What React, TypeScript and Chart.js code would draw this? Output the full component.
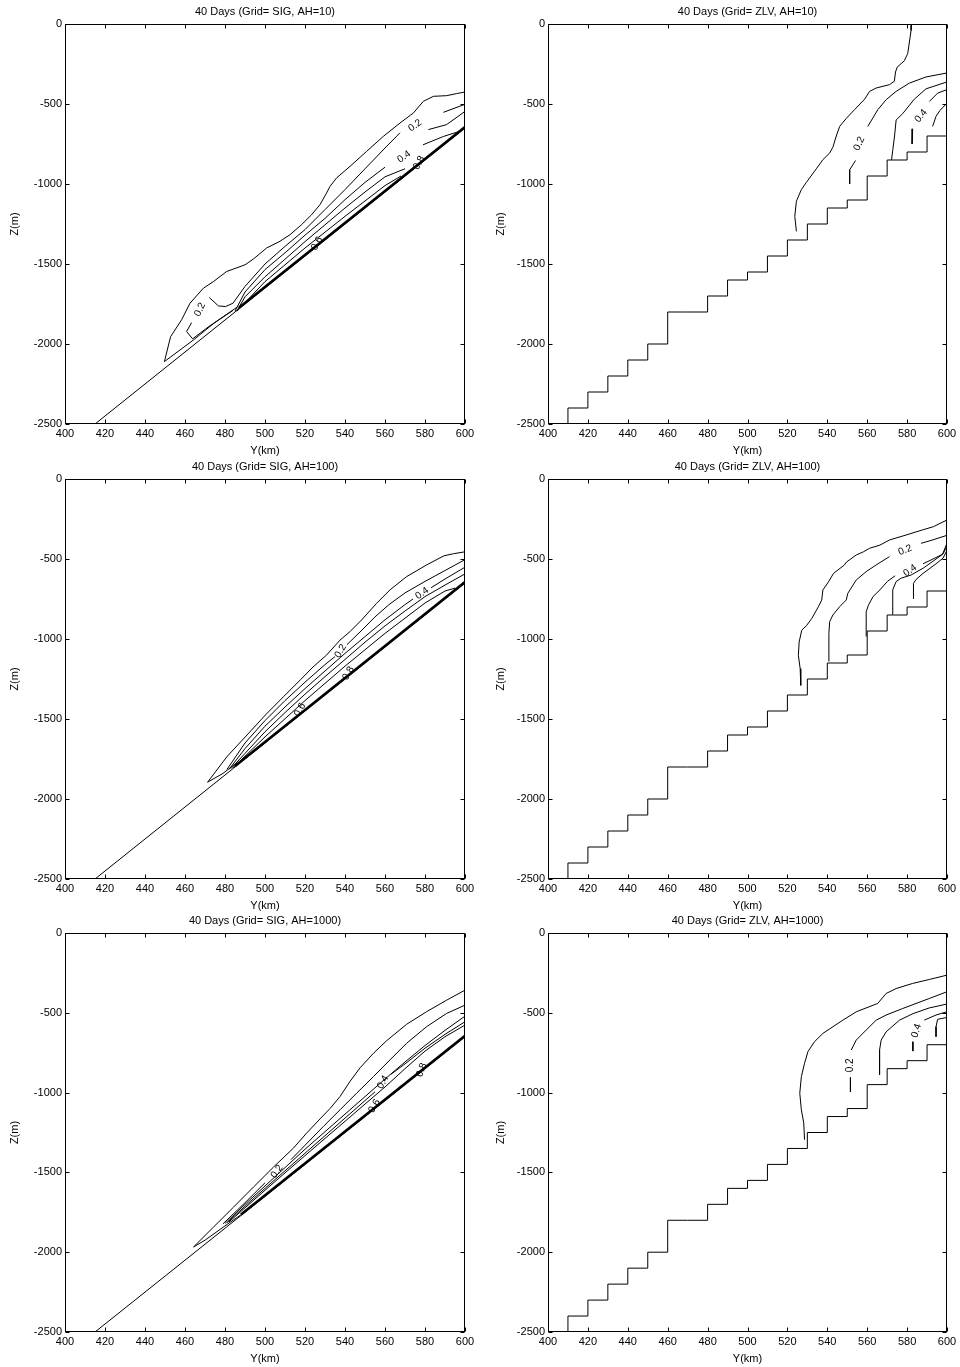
import React, { useEffect, useRef } from "react";
import { Chart, registerables } from "chart.js";

Chart.register(...registerables);

type Pt = [number, number];
type Lbl = { x: number; z: number; text: string; rot: number };

const FONT = '"Liberation Sans", Arial, Helvetica, sans-serif';

// ---------- axes ----------
const X_TICKS = [400, 420, 440, 460, 480, 500, 520, 540, 560, 580, 600];
const Z_TICKS = [-2500, -2000, -1500, -1000, -500, 0];
const X_RANGE: Pt = [400, 600];
const Z_RANGE: Pt = [-2500, 0];

// ---------- topography ----------
const SIG_BOTTOM: Pt[] = [[415, -2500], [600, -650]];
const STAIR_X = [400, 410, 420, 430, 440, 450, 460, 470, 480, 490, 500, 510, 520, 530, 540, 550, 560, 570, 580, 590, 600];
const STAIR_Z = [-2500, -2400, -2300, -2200, -2100, -2000, -1800, -1800, -1700, -1600, -1550, -1450, -1350, -1250, -1150, -1100, -950, -850, -800, -700, -700];

// ---------- SIG, AH=10 ----------
const S10_THICK: Pt[] = [[487, -1774], [600, -644]];
const S10_C1: Pt[] = [[486, -1770], [475, -1865], [464.2, -1975], [449.7, -2110], [452.8, -1954], [458.3, -1849], [462.5, -1745], [469.2, -1651], [474.2, -1610], [480.8, -1547], [490, -1505], [494.2, -1469], [500.8, -1400], [507.5, -1358], [512.5, -1317], [518.3, -1254], [523.3, -1192], [527.5, -1129], [530.8, -1056], [532.5, -1015], [535.8, -962], [542.5, -890], [550.8, -796], [559.2, -702], [567.5, -619], [574.2, -556], [579.2, -483], [584.2, -452], [590.8, -448], [595.8, -435], [600, -425]];
const S10_C2A: Pt[] = [[463.3, -1866], [460.8, -1922], [463.8, -1968], [472, -1890], [484, -1790]];
const S10_C2B: Pt[] = [[472.2, -1710], [476.7, -1762], [480.3, -1766], [484, -1745], [490, -1640], [500, -1500], [510, -1390], [520, -1285], [530, -1160], [540, -1035], [550, -905], [560, -775], [567.5, -680]];
const S10_C2C: Pt[] = [[581.7, -660], [590.8, -629], [600, -546]];
const S10_C2D: Pt[] = [[589.2, -552], [600, -502]];
const S10_C3A: Pt[] = [[485, -1795], [490, -1675], [500, -1535], [510, -1430], [520, -1320], [530, -1215], [540, -1098], [550, -990], [560, -895]];
const S10_C3B: Pt[] = [[579, -755], [589.2, -703], [598, -668]];
const S10_C4: Pt[] = [[486, -1792], [490, -1705], [500, -1580], [510, -1470], [520, -1360], [530, -1255], [540, -1150], [550, -1050], [560, -955], [570, -905]];
const S10_C5: Pt[] = [[486, -1795], [500, -1610], [520, -1400], [540, -1202], [560, -1010], [568, -950]];
const S10_LABELS: Lbl[] = [
  { x: 467.5, z: -1785, text: "0.2", rot: 65 },
  { x: 575, z: -635, text: "0.2", rot: 35 },
  { x: 569.5, z: -830, text: "0.4", rot: 35 },
  { x: 577, z: -868, text: "0.8", rot: 60 },
  { x: 526, z: -1372, text: "0.6", rot: 60 },
];

// ---------- SIG, AH=100 ----------
const S100_THICK: Pt[] = [[485, -1794], [600, -644]];
const S100_C1: Pt[] = [[486, -1772], [479, -1840], [471.3, -1895], [481, -1735], [491, -1600], [500.2, -1475], [509.3, -1360], [517.7, -1255], [524, -1175], [530.8, -1100], [537.5, -1007], [542.5, -954], [548.3, -881], [555.8, -777], [562.5, -693], [570.8, -610], [580.8, -537], [589.5, -480], [594.2, -467], [600, -455]];
const S100_C2A: Pt[] = [[481, -1815], [490, -1650], [500, -1510], [510, -1385], [520, -1270], [530, -1160], [535, -1110]];
const S100_C2B: Pt[] = [[541, -1035], [548, -950], [555, -862], [562, -785], [570, -712], [580, -640], [590, -572], [600, -504]];
const S100_C3A: Pt[] = [[482, -1815], [490, -1685], [500, -1545], [510, -1425], [520, -1310], [530, -1200], [540, -1090], [550, -985], [560, -880], [570, -785], [574, -750]];
const S100_C3B: Pt[] = [[583, -680], [590, -625], [600, -551]];
const S100_C4: Pt[] = [[483, -1810], [490, -1715], [500, -1580], [510, -1460], [520, -1345], [530, -1235], [540, -1128], [550, -1020], [560, -918], [570, -825], [580, -735], [590, -663], [600, -593]];
const S100_C5: Pt[] = [[484, -1805], [500, -1612], [520, -1385], [540, -1170], [560, -965], [580, -775], [590, -700], [595, -682]];
const S100_LABELS: Lbl[] = [
  { x: 537.8, z: -1075, text: "0.2", rot: 60 },
  { x: 578.5, z: -714, text: "0.4", rot: 35 },
  { x: 541.7, z: -1214, text: "0.8", rot: 60 },
  { x: 517.5, z: -1443, text: "0.6", rot: 60 },
];

// ---------- SIG, AH=1000 ----------
const S1000_THICK: Pt[] = [[488, -1764], [600, -644]];
const S1000_C1: Pt[] = [[488, -1765], [480, -1835], [470, -1925], [464.3, -1967], [474.3, -1842], [484.3, -1717], [494.3, -1591], [504.3, -1466], [514.2, -1348], [520.8, -1254], [527.5, -1165], [532.5, -1100], [537.5, -1025], [542.5, -930], [547.5, -845], [554.2, -754], [560.8, -675], [570.8, -572], [580.8, -493], [590.8, -421], [600, -358]];
const S1000_C2A: Pt[] = [[479, -1822], [490, -1690], [500, -1565]];
const S1000_C2B: Pt[] = [[513, -1420], [520, -1330], [529.2, -1212], [537.5, -1108], [545.8, -1004], [554.2, -900], [562.5, -795], [570.8, -691], [580.8, -587], [590.8, -504], [600, -452]];
const S1000_C3: Pt[] = [[480, -1820], [490, -1700], [500, -1585], [510, -1470], [520, -1355], [530, -1245], [540, -1135], [550, -1025], [560, -915], [570, -808], [580, -705], [590, -610], [600, -521]];
const S1000_C4A: Pt[] = [[481, -1815], [490, -1712], [500, -1600], [510, -1490], [520, -1380], [530, -1270], [540, -1160], [550, -1050], [555, -995]];
const S1000_C4B: Pt[] = [[563, -885], [570, -820], [580, -722], [590, -635], [600, -556]];
const S1000_C5: Pt[] = [[482, -1810], [490, -1722], [500, -1612], [510, -1503], [520, -1395], [530, -1287], [540, -1180], [550, -1072], [560, -965], [570, -850], [580, -740], [590, -650], [600, -577]];
const S1000_LABELS: Lbl[] = [
  { x: 506, z: -1495, text: "0.2", rot: 55 },
  { x: 559, z: -935, text: "0.4", rot: 60 },
  { x: 554.7, z: -1085, text: "0.6", rot: 60 },
  { x: 578.3, z: -858, text: "0.8", rot: 70 },
];

// ---------- ZLV, AH=10 ----------
const Z10_C1: Pt[] = [[582.3, 0], [582, -40], [581.3, -100], [580.3, -185], [578.6, -230], [575, -270], [574.2, -300], [573.6, -358], [571.2, -379], [564.5, -400], [561.2, -421], [558.7, -470], [553.7, -535], [549.5, -590], [546.2, -640], [544.5, -700], [542.8, -770], [541.2, -806], [537.8, -848], [534.5, -905], [529.5, -990], [527, -1035], [524.5, -1108], [523.7, -1202], [524.5, -1296]];
const Z10_C2A: Pt[] = [[600, -306], [589.5, -331], [581.2, -369], [574.5, -421], [569.5, -473], [565.3, -536], [562.8, -588], [560.3, -640]];
const Z10_C2B: Pt[] = [[554.2, -853], [551.2, -911], [551.2, -1000]];
const Z10_C3: Pt[] = [[600, -362], [589.5, -405], [583.6, -470], [577.8, -560], [574.5, -600], [573.7, -700], [572.8, -790], [572.2, -849]];
const Z10_C4A: Pt[] = [[600, -410], [595.3, -432], [591.2, -484]];
const Z10_C4B: Pt[] = [[582.8, -655], [582.5, -750]];
const Z10_C5: Pt[] = [[600, -494], [596.5, -540], [594.5, -577], [592.8, -640]];
const Z10_LABELS: Lbl[] = [
  { x: 556, z: -748, text: "0.2", rot: 65 },
  { x: 587, z: -575, text: "0.4", rot: 50 },
];

// ---------- ZLV, AH=100 ----------
const Z100_C1: Pt[] = [[600, -256], [593.2, -298], [587.8, -318], [579.5, -350], [571.2, -381], [566.4, -413], [561.2, -433], [558.1, -455], [554.5, -475], [549.7, -518], [548.6, -537], [543.1, -590], [540.6, -643], [537.8, -693], [537.2, -757], [535.5, -799], [532.2, -872], [529.7, -914], [527.2, -945], [525.9, -1018], [525.5, -1102], [526.4, -1185], [526.7, -1290]];
const Z100_C2A: Pt[] = [[540.8, -1140], [540.8, -964], [541.2, -891], [542.8, -850], [546.2, -798], [549.5, -756], [550.3, -714], [554.5, -631], [559.5, -579], [564.5, -537], [571.2, -485]];
const Z100_C2B: Pt[] = [[587, -402], [593, -380], [600, -352]];
const Z100_C3A: Pt[] = [[559.5, -985], [559.5, -830], [560.6, -789], [562.9, -735], [566.4, -693], [570.2, -639], [574, -605]];
const Z100_C3B: Pt[] = [[588, -530], [593, -500], [597.8, -470], [600, -400]];
const Z100_C4: Pt[] = [[572.5, -845], [572.8, -693], [574.5, -641], [577, -620], [582, -600], [588, -558], [594, -505], [598, -468], [600, -420]];
const Z100_C5: Pt[] = [[583.2, -750], [583.2, -652], [584.5, -628], [588, -590], [594.5, -530], [598, -495], [600, -445]];
const Z100_LABELS: Lbl[] = [
  { x: 579, z: -445, text: "0.2", rot: 22 },
  { x: 581.5, z: -572, text: "0.4", rot: 35 },
];

// ---------- ZLV, AH=1000 ----------
const Z1000_C1: Pt[] = [[600, -264], [591.2, -291], [582.8, -316], [574.5, -348], [569.5, -379], [565.3, -441], [554.5, -494], [547.8, -546], [537.8, -629], [533.6, -681], [530.3, -743], [528.6, -816], [527, -900], [526.2, -1004], [527, -1108], [528.2, -1191], [528.6, -1295]];
const Z1000_C2A: Pt[] = [[600, -368], [591.2, -410], [577.8, -473], [569.5, -514], [564.5, -546], [559.5, -608], [554.5, -671], [552, -733]];
const Z1000_C2B: Pt[] = [[551.6, -905], [551.6, -995]];
const Z1000_C3: Pt[] = [[600, -445], [591, -470], [583, -505], [576.2, -546], [569.5, -619], [567, -671], [566.2, -733], [566.2, -889]];
const Z1000_C4A: Pt[] = [[600, -493], [594.5, -514], [588.6, -546]];
const Z1000_C4B: Pt[] = [[582.9, -681], [582.9, -740]];
const Z1000_C5: Pt[] = [[600, -529], [595.3, -541], [594.5, -587], [594.5, -650]];
const Z1000_LABELS: Lbl[] = [
  { x: 551.4, z: -829, text: "0.2", rot: 90 },
  { x: 584.7, z: -612, text: "0.4", rot: 72 },
];

// ---------- panel specs ----------
type Line = { pts: Pt[]; w?: number; stepped?: boolean };
type PanelSpec = { title: string; col: number; row: number; lines: Line[]; labels: Lbl[] };

const STAIR: Pt[] = STAIR_X.map((x, i) => [x, STAIR_Z[i]] as Pt);

const PANELS: PanelSpec[] = [
  {
    title: "40 Days (Grid= SIG, AH=10)", col: 0, row: 0, labels: S10_LABELS,
    lines: [{ pts: SIG_BOTTOM }, { pts: S10_THICK, w: 2.6 }, { pts: S10_C1 }, { pts: S10_C2A }, { pts: S10_C2B }, { pts: S10_C2C }, { pts: S10_C2D }, { pts: S10_C3A }, { pts: S10_C3B }, { pts: S10_C4 }, { pts: S10_C5 }],
  },
  {
    title: "40 Days (Grid= ZLV, AH=10)", col: 1, row: 0, labels: Z10_LABELS,
    lines: [{ pts: STAIR, stepped: true }, { pts: Z10_C1 }, { pts: Z10_C2A }, { pts: Z10_C2B }, { pts: Z10_C3 }, { pts: Z10_C4A }, { pts: Z10_C4B }, { pts: Z10_C5 }],
  },
  {
    title: "40 Days (Grid= SIG, AH=100)", col: 0, row: 1, labels: S100_LABELS,
    lines: [{ pts: SIG_BOTTOM }, { pts: S100_THICK, w: 2.6 }, { pts: S100_C1 }, { pts: S100_C2A }, { pts: S100_C2B }, { pts: S100_C3A }, { pts: S100_C3B }, { pts: S100_C4 }, { pts: S100_C5 }],
  },
  {
    title: "40 Days (Grid= ZLV, AH=100)", col: 1, row: 1, labels: Z100_LABELS,
    lines: [{ pts: STAIR, stepped: true }, { pts: Z100_C1 }, { pts: Z100_C2A }, { pts: Z100_C2B }, { pts: Z100_C3A }, { pts: Z100_C3B }, { pts: Z100_C4 }, { pts: Z100_C5 }],
  },
  {
    title: "40 Days (Grid= SIG, AH=1000)", col: 0, row: 2, labels: S1000_LABELS,
    lines: [{ pts: SIG_BOTTOM }, { pts: S1000_THICK, w: 2.6 }, { pts: S1000_C1 }, { pts: S1000_C2A }, { pts: S1000_C2B }, { pts: S1000_C3 }, { pts: S1000_C4A }, { pts: S1000_C4B }, { pts: S1000_C5 }],
  },
  {
    title: "40 Days (Grid= ZLV, AH=1000)", col: 1, row: 2, labels: Z1000_LABELS,
    lines: [{ pts: STAIR, stepped: true }, { pts: Z1000_C1 }, { pts: Z1000_C2A }, { pts: Z1000_C2B }, { pts: Z1000_C3 }, { pts: Z1000_C4A }, { pts: Z1000_C4B }, { pts: Z1000_C5 }],
  },
];

// layout (pixels)
const ROW_TOP = [0, 455, 909];
const ROW_H = [459, 459, 458];
const COL_LEFT = [0, 480];
const COL_W = 480;
const Y_AXIS_W = [65, 68];
const PAD_RIGHT = [15, 13];
const YTITLE_PAD = [8.4, 14.1];

function Panel({ spec }: { spec: PanelSpec }) {
  const ref = useRef<HTMLCanvasElement>(null);
  useEffect(() => {
    const canvas = ref.current;
    if (!canvas) return;
    const datasets = spec.lines.map((l) => ({
      data: l.pts.map(([x, y]) => ({ x, y })),
      showLine: true,
      pointRadius: 0,
      pointHoverRadius: 0,
      borderColor: "#000",
      borderWidth: l.w ?? 1,
      fill: false,
      tension: 0,
      stepped: l.stepped ? ("before" as const) : false,
    }));
    const decor = {
      id: "decor",
      afterDraw(chart: any) {
        const { ctx, chartArea: a, scales } = chart;
        const sx = scales.x;
        const sy = scales.y;
        ctx.save();
        ctx.strokeStyle = "#000";
        ctx.lineWidth = 1;
        const L = Math.round(a.left) + 0.5;
        const R = Math.round(a.right) - 0.5;
        const T = Math.round(a.top) + 0.5;
        const B = Math.round(a.bottom) - 0.5;
        ctx.strokeRect(L, T, R - L, B - T);
        ctx.beginPath();
        for (const v of X_TICKS) {
          const px = Math.round(sx.getPixelForValue(v)) + 0.5;
          ctx.moveTo(px, B);
          ctx.lineTo(px, B - 4);
          ctx.moveTo(px, T);
          ctx.lineTo(px, T + 4);
        }
        for (const v of Z_TICKS) {
          const py = Math.round(sy.getPixelForValue(v)) + 0.5;
          ctx.moveTo(L, py);
          ctx.lineTo(L + 4, py);
          ctx.moveTo(R, py);
          ctx.lineTo(R - 4, py);
        }
        ctx.stroke();
        ctx.fillStyle = "#000";
        ctx.textAlign = "center";
        ctx.textBaseline = "middle";
        ctx.font = `11px ${FONT}`;
        ctx.fillText(spec.title, (a.left + a.right) / 2, a.top - 12);
        ctx.font = `10px ${FONT}`;
        for (const lb of spec.labels) {
          ctx.save();
          ctx.translate(sx.getPixelForValue(lb.x), sy.getPixelForValue(lb.z));
          ctx.rotate((-lb.rot * Math.PI) / 180);
          ctx.fillText(lb.text, 0, 0);
          ctx.restore();
        }
        ctx.restore();
      },
    };
    const c = spec.col;
    const tickFont = { family: FONT, size: 11 };
    const chart = new Chart(canvas, {
      type: "scatter",
      data: { datasets },
      plugins: [decor],
      options: {
        responsive: false,
        animation: false,
        events: [],
        layout: { padding: { left: 0, right: PAD_RIGHT[c], top: 24, bottom: 0 } },
        plugins: { legend: { display: false }, tooltip: { enabled: false }, title: { display: false } },
        scales: {
          x: {
            type: "linear",
            min: X_RANGE[0],
            max: X_RANGE[1],
            afterBuildTicks: (s: any) => {
              s.ticks = X_TICKS.map((v) => ({ value: v }));
            },
            afterFit: (s: any) => {
              s.height = 35;
            },
            grid: { display: false, drawTicks: false },
            border: { display: false },
            ticks: { color: "#000", font: tickFont, padding: 3, maxRotation: 0, autoSkip: false, callback: (v: any) => String(v) },
            title: { display: true, text: "Y(km)", color: "#000", font: tickFont, padding: { top: 0, bottom: 1 } },
          },
          y: {
            type: "linear",
            min: Z_RANGE[0],
            max: Z_RANGE[1],
            afterBuildTicks: (s: any) => {
              s.ticks = Z_TICKS.map((v) => ({ value: v }));
            },
            afterFit: (s: any) => {
              s.width = Y_AXIS_W[c];
            },
            grid: { display: false, drawTicks: false },
            border: { display: false },
            ticks: { color: "#000", font: tickFont, padding: 3, autoSkip: false, callback: (v: any) => String(v) },
            title: { display: true, text: "Z(m)", color: "#000", font: tickFont, padding: { top: YTITLE_PAD[c], bottom: 0 } },
          },
        },
      } as any,
    });
    return () => chart.destroy();
  }, [spec]);
  return (
    <canvas
      ref={ref}
      width={COL_W}
      height={ROW_H[spec.row]}
      style={{
        position: "absolute",
        left: COL_LEFT[spec.col],
        top: ROW_TOP[spec.row],
        width: COL_W,
        height: ROW_H[spec.row],
      }}
    />
  );
}

export default function App() {
  return (
    <div
      style={{
        position: "absolute",
        left: 0,
        top: 0,
        width: 960,
        height: 1367,
        overflow: "hidden",
        background: "#fff",
      }}
    >
      {PANELS.map((p) => (
        <Panel key={p.title} spec={p} />
      ))}
    </div>
  );
}
